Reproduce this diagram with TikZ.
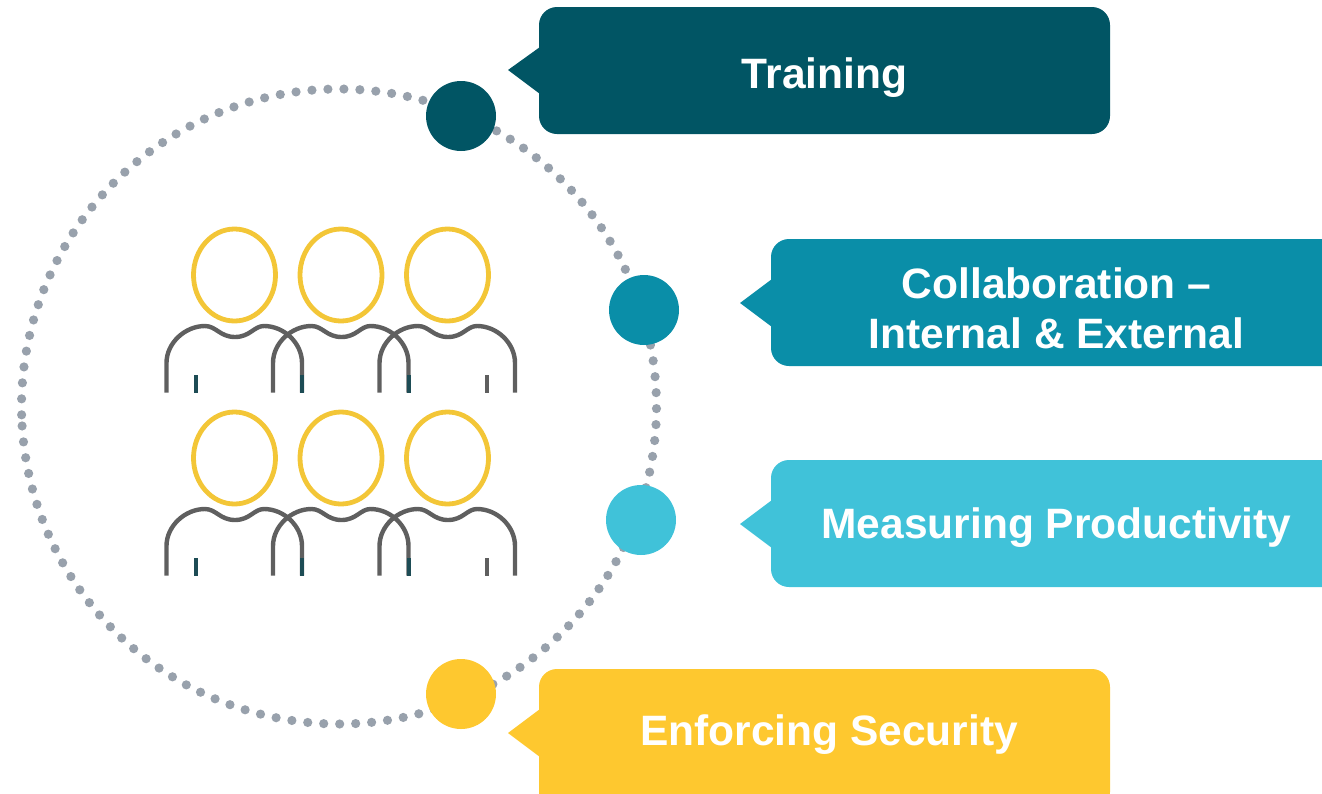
\documentclass[tikz,border=0pt]{standalone}
\usepackage{fontspec}
\setmainfont{Liberation Sans}
\definecolor{cA}{HTML}{015564}
\definecolor{cB}{HTML}{0A8EA8}
\definecolor{cC}{HTML}{40C2D9}
\definecolor{cD}{HTML}{FEC82F}
\definecolor{dotc}{HTML}{98A1AC}
\definecolor{headc}{HTML}{F3C637}
\definecolor{bodyc}{HTML}{5F5F5F}
\definecolor{tealc}{HTML}{1D4C55}
\tikzset{
  px/.style={x=1pt,y=-1pt},
  lab/.style={text=white,font=\bfseries\fontsize{42.5}{50}\selectfont,align=center,inner sep=0pt},
  callout/.style={rounded corners=18pt},
  marker/.style={circle,minimum size=70pt,inner sep=0pt},
  headline/.style={draw=headc,line width=4.8pt},
  bodyline/.style={draw=bodyc,line width=4.4pt},
  tealline/.style={draw=tealc,line width=4pt},
}
\newcommand{\person}[2]{%
  \begin{scope}[shift={(#1,#2)}]
    \draw[headline] (234.5,275) ellipse [x radius=41,y radius=46];
    \draw[bodyline] (166.5,392.5) -- (166.5,363)
      .. controls (166.5,343) and (185,326) .. (205,326)
      .. controls (216,326) and (220,337) .. (235,337)
      .. controls (250,337) and (254,326) .. (264,326)
      .. controls (284,326) and (302,343) .. (302,363) -- (302,392.5);
  \end{scope}}
\begin{document}
\begin{tikzpicture}[px]
\useasboundingbox (0,0) rectangle (1322,793);
\clip (0,0) rectangle (1322,793);
% dotted ring
\foreach \i in {0,...,124}
  \fill[dotc] ({339+317.5*cos(181.5-2.887*\i)},{406.5-317.5*sin(181.5-2.887*\i)}) circle (4.6);
% people
\foreach \yy in {0,183}{
  \foreach \xx in {0,106.5,213}{\person{\xx}{\yy}}
  \begin{scope}[shift={(0,\yy)}]
    \draw[tealline] (195.5,375) -- (195.5,392.5);
    \draw[tealline] (302,375) -- (302,392.5);
    \draw[tealline] (408.5,375) -- (408.5,392.5);
    \draw[bodyline] (487,375) -- (487,392.5);
  \end{scope}
}
% markers
\node[marker,fill=cA] (m1) at (461,116) {};
\node[marker,fill=cB] (m2) at (644,310) {};
\node[marker,fill=cC] (m3) at (641,520) {};
\node[marker,fill=cD] (m4) at (461,694) {};
% callouts
\fill[cA,callout] (539,7) rectangle (1110,134);
\fill[cA] (508,70) -- (540,47) -- (540,94) -- cycle;
\node[lab] (t1) at (824.5,78) {Training};
\fill[cB,callout] (771,239) rectangle (1360,366);
\fill[cB] (740,303) -- (772,279) -- (772,327) -- cycle;
\node[lab] (t2) at (1056.5,308) {Collaboration --\\[0pt]Internal \& External};
\fill[cC,callout] (771,460) rectangle (1360,587);
\fill[cC] (740,524) -- (772,500) -- (772,548) -- cycle;
\node[lab] (t3) at (1056.5,528) {Measuring Productivity};
\fill[cD,callout] (539,669) rectangle (1110,810);
\fill[cD] (508,733) -- (540,709) -- (540,757) -- cycle;
\node[lab] (t4) at (829,735) {Enforcing Security};
\end{tikzpicture}
\end{document}
